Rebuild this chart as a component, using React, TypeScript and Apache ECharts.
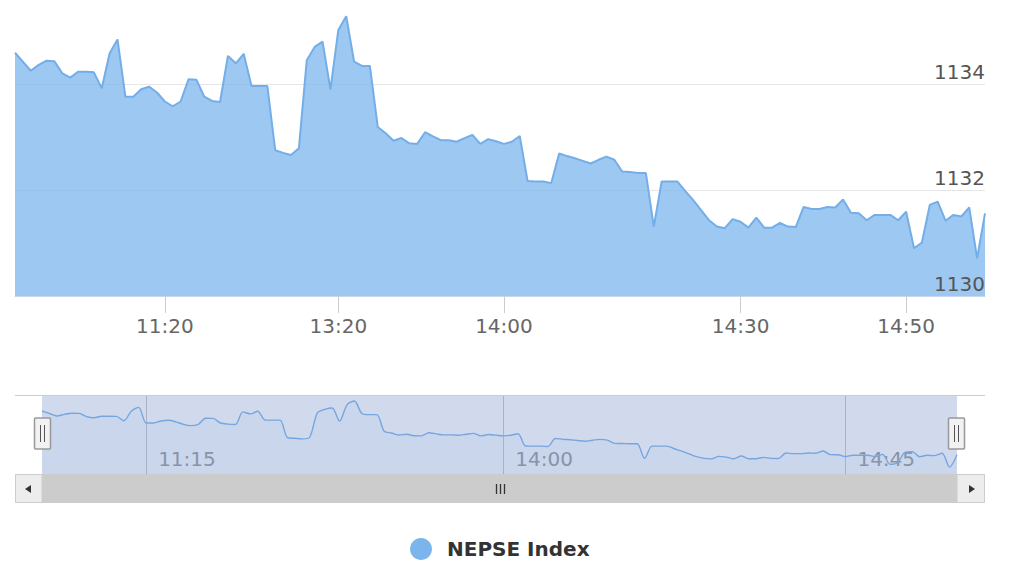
import React, { useEffect, useRef } from "react";
import * as echarts from "echarts";

const SERIES_NAME = "NEPSE Index";

const TIMES = [
  "11:01", "11:02", "11:03", "11:04", "11:05", "11:06", "11:07", "11:08", "11:09", "11:10",
  "11:11", "11:12", "11:13", "11:14", "11:15", "11:16", "11:17", "11:18", "11:19", "11:20",
  "11:26", "11:32", "11:38", "11:44", "11:50", "11:56", "12:02", "12:08", "12:14", "12:20",
  "12:26", "12:32", "12:38", "12:44", "12:50", "12:56", "13:02", "13:08", "13:12", "13:16",
  "13:18", "13:20", "13:22", "13:24", "13:26", "13:28", "13:30", "13:32", "13:34", "13:36",
  "13:38", "13:40", "13:42", "13:44", "13:46", "13:48", "13:50", "13:52", "13:54", "13:56",
  "13:58", "13:59", "14:00", "14:01", "14:02", "14:03", "14:04", "14:05", "14:06", "14:07",
  "14:08", "14:09", "14:10", "14:11", "14:12", "14:13", "14:14", "14:15", "14:16", "14:17",
  "14:18", "14:19", "14:20", "14:21", "14:22", "14:23", "14:24", "14:25", "14:26", "14:27",
  "14:28", "14:29", "14:30", "14:31", "14:32", "14:33", "14:34", "14:35", "14:36", "14:37",
  "14:38", "14:39", "14:40", "14:41", "14:42", "14:43", "14:44", "14:44:30", "14:45", "14:46",
  "14:47", "14:48", "14:49", "14:50", "14:51", "14:52", "14:53", "14:54", "14:55", "14:56",
  "14:57", "14:58", "14:59", "15:00",
];

const NEPSE = [
  1134.59, 1134.42, 1134.25, 1134.36, 1134.44, 1134.43, 1134.2, 1134.12, 1134.23, 1134.23,
  1134.22, 1133.92, 1134.58, 1134.84, 1133.76, 1133.76, 1133.9, 1133.95, 1133.84, 1133.67,
  1133.58, 1133.67, 1134.09, 1134.08, 1133.76, 1133.68, 1133.66, 1134.53, 1134.39, 1134.57,
  1133.96, 1133.96, 1133.96, 1132.75, 1132.7, 1132.66, 1132.79, 1134.45, 1134.7, 1134.8,
  1133.9, 1135.02, 1135.28, 1134.42, 1134.34, 1134.34, 1133.19, 1133.07, 1132.93, 1132.98,
  1132.88, 1132.87, 1133.09, 1133.01, 1132.94, 1132.94, 1132.91, 1132.98, 1133.04, 1132.87,
  1132.96, 1132.92, 1132.87, 1132.91, 1133.02, 1132.17, 1132.16, 1132.16, 1132.13, 1132.69,
  1132.64, 1132.6, 1132.55, 1132.5, 1132.57, 1132.63, 1132.57, 1132.35, 1132.34, 1132.32,
  1132.32, 1131.31, 1132.16, 1132.16, 1132.16, 1131.98, 1131.81, 1131.62, 1131.43, 1131.31,
  1131.28, 1131.45, 1131.4, 1131.29, 1131.48, 1131.29, 1131.29, 1131.38, 1131.31, 1131.3,
  1131.68, 1131.64, 1131.64, 1131.68, 1131.67, 1131.82, 1131.57, 1131.56, 1131.43, 1131.53,
  1131.53, 1131.53, 1131.43, 1131.59, 1130.9, 1131.01, 1131.72, 1131.78, 1131.42, 1131.53,
  1131.5, 1131.67, 1130.71, 1131.56,
];

const MAIN_TICKS = ["11:20", "13:20", "14:00", "14:30", "14:50"];
const NAV_TICKS = ["11:15", "14:00", "14:45"];
const Y_MIN = 1130;
const Y_MAX = 1135.5;
const Y_STEP = 2;
const NAV_Y_MIN = 1130.16;
const NAV_Y_MAX = 1135.7;

export default function App() {
  const ref = useRef<HTMLDivElement>(null);

  useEffect(() => {
    if (!ref.current) return;
    const chart = echarts.init(ref.current, null, { renderer: "svg" });
    const font = "DejaVu Sans";
    const showMain = (i: number) => MAIN_TICKS.includes(TIMES[i]);
    const showNav = (i: number) => NAV_TICKS.includes(TIMES[i]);
    const Z = 100;

    const handle = (cx: number) => ({
      type: "group",
      z: Z + 5,
      children: [
        {
          type: "rect",
          shape: { x: cx - 8, y: 418, width: 16, height: 31, r: 1 },
          style: { fill: "#f2f2f2", stroke: "#999999", lineWidth: 1.5 },
          z: Z + 5,
        },
        {
          type: "line",
          shape: { x1: cx - 2, y1: 425, x2: cx - 2, y2: 442 },
          style: { stroke: "#555555", lineWidth: 1 },
          z: Z + 6,
        },
        {
          type: "line",
          shape: { x1: cx + 2, y1: 425, x2: cx + 2, y2: 442 },
          style: { stroke: "#555555", lineWidth: 1 },
          z: Z + 6,
        },
      ],
    });

    chart.setOption({
      animation: false,
      backgroundColor: "#ffffff",
      textStyle: { fontFamily: font },
      grid: [
        { left: 15, right: 39, top: 4.5, height: 291.5 },
        { left: 42, right: 67, top: 395, height: 80 },
      ],
      xAxis: [
        {
          type: "category",
          gridIndex: 0,
          data: TIMES,
          boundaryGap: false,
          axisLine: { show: true, lineStyle: { color: "#ccd6eb" } },
          axisTick: {
            show: true,
            interval: (i: number) => showMain(i),
            length: 17,
            lineStyle: { color: "#cccccc" },
          },
          axisLabel: {
            interval: (i: number) => showMain(i),
            formatter: (v: string) => v.slice(0, 5),
            color: "#666666",
            fontSize: 20,
            fontFamily: font,
            margin: 20,
          },
          splitLine: { show: false },
        },
        {
          type: "category",
          gridIndex: 1,
          data: TIMES,
          boundaryGap: false,
          axisLine: { show: false },
          axisTick: { show: false },
          axisLabel: {
            inside: true,
            interval: (i: number) => showNav(i),
            formatter: (v: string) => v.slice(0, 5),
            color: "#999999",
            fontSize: 20,
            fontFamily: font,
            align: "left",
            verticalAlign: "middle",
            margin: 16,
            padding: [0, 0, 0, 12],
          },
          splitLine: {
            show: true,
            interval: (i: number) => showNav(i),
            lineStyle: { color: "#c8c8c8", width: 1 },
          },
        },
      ],
      yAxis: [
        {
          type: "value",
          gridIndex: 0,
          position: "right",
          min: Y_MIN,
          max: Y_MAX,
          interval: Y_STEP,
          axisLine: { show: false },
          axisTick: { show: false },
          axisLabel: { show: false },
          splitLine: {
            show: true,
            lineStyle: {
              color: ["#e6e6e6", "#e6e6e6", "#e6e6e6", "rgba(0,0,0,0)"],
              width: 1,
            },
          },
        },
        {
          type: "value",
          gridIndex: 1,
          min: NAV_Y_MIN,
          max: NAV_Y_MAX,
          show: false,
          splitLine: { show: false },
        },
        {
          type: "value",
          gridIndex: 0,
          position: "right",
          min: Y_MIN,
          max: Y_MAX,
          interval: Y_STEP,
          z: 10,
          axisLine: { show: false },
          axisTick: { show: false },
          splitLine: { show: false },
          axisLabel: {
            inside: true,
            margin: 0,
            color: "#555555",
            fontSize: 20,
            fontFamily: font,
            verticalAlign: "bottom",
            lineHeight: 20,
            padding: [0, 0, 2, 0],
            formatter: (v: number) => (v % Y_STEP === 0 ? String(v) : ""),
          },
        },
      ],
      legend: {
        left: 405,
        top: 533,
        itemWidth: 22,
        itemHeight: 22,
        data: [{ name: SERIES_NAME, icon: "circle" }],
        textStyle: {
          fontFamily: font,
          fontWeight: "bold",
          fontSize: 20,
          color: "#333333",
          padding: [0, 0, 0, 10],
        },
      },
      series: [
        {
          name: SERIES_NAME,
          type: "line",
          xAxisIndex: 0,
          yAxisIndex: 0,
          data: NEPSE,
          showSymbol: false,
          color: "#7cb5ec",
          lineStyle: { color: "#74aee8", width: 2 },
          areaStyle: { color: "#7cb5ec", opacity: 0.75 },
        },
        {
          name: "Navigator",
          type: "line",
          xAxisIndex: 1,
          yAxisIndex: 1,
          data: NEPSE,
          showSymbol: false,
          smooth: 0.3,
          color: "#7cb5ec",
          lineStyle: { color: "#7cb5ec", width: 1.4 },
          areaStyle: { color: "#7cb5ec", opacity: 0.08 },
        },
      ],
      graphic: [
        {
          type: "rect",
          z: Z,
          shape: { x: 42, y: 395, width: 915, height: 80 },
          style: { fill: "rgba(102,133,194,0.3)" },
        },
        {
          type: "line",
          z: Z + 1,
          shape: { x1: 15, y1: 395.5, x2: 985, y2: 395.5 },
          style: { stroke: "#cccccc", lineWidth: 1 },
        },
        {
          type: "rect",
          z: Z,
          shape: { x: 15, y: 474, width: 970, height: 29 },
          style: { fill: "#f2f2f2" },
        },
        {
          type: "rect",
          z: Z + 1,
          shape: { x: 42, y: 474, width: 915, height: 29 },
          style: { fill: "#cccccc" },
        },
        {
          type: "rect",
          z: Z + 1,
          shape: { x: 15.5, y: 474.5, width: 26.5, height: 28 },
          style: { fill: "#ededed", stroke: "#cccccc", lineWidth: 1 },
        },
        {
          type: "rect",
          z: Z + 1,
          shape: { x: 957, y: 474.5, width: 27.5, height: 28 },
          style: { fill: "#ededed", stroke: "#cccccc", lineWidth: 1 },
        },
        {
          type: "polygon",
          z: Z + 2,
          shape: { points: [[25, 489], [31, 485], [31, 493]] },
          style: { fill: "#333333" },
        },
        {
          type: "polygon",
          z: Z + 2,
          shape: { points: [[975, 489], [969, 485], [969, 493]] },
          style: { fill: "#333333" },
        },
        {
          type: "line",
          z: Z + 2,
          shape: { x1: 496.5, y1: 484, x2: 496.5, y2: 494 },
          style: { stroke: "#333333", lineWidth: 1.3 },
        },
        {
          type: "line",
          z: Z + 2,
          shape: { x1: 500.5, y1: 484, x2: 500.5, y2: 494 },
          style: { stroke: "#333333", lineWidth: 1.3 },
        },
        {
          type: "line",
          z: Z + 2,
          shape: { x1: 504.5, y1: 484, x2: 504.5, y2: 494 },
          style: { stroke: "#333333", lineWidth: 1.3 },
        },
        handle(42.5),
        handle(956.5),
      ],
    });

    return () => chart.dispose();
  }, []);

  return (
    <div
      ref={ref}
      style={{ position: "fixed", left: 0, top: 0, width: 1024, height: 577, background: "#fff" }}
    />
  );
}
